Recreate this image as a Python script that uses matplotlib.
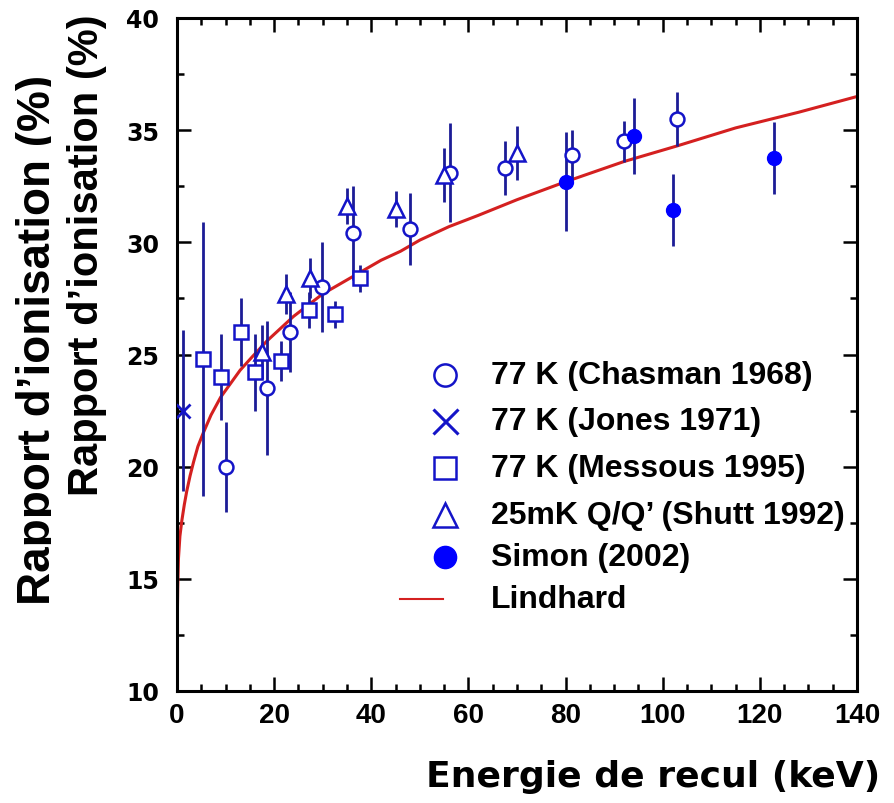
import matplotlib
matplotlib.use("Agg")
import matplotlib.pyplot as plt
from matplotlib.transforms import Bbox, TransformedBbox

# Donnees
chasman_x = [10.0, 18.5, 23.3, 29.8, 36.2, 48.0, 56.2, 67.5, 81.4, 92.0, 102.9]
chasman_y = [20.0, 23.5, 26.0, 28.0, 30.4, 30.6, 33.1, 33.3, 33.9, 34.5, 35.5]
chasman_err = [2.0, 3.0, 1.8, 2.0, 2.1, 1.6, 2.2, 1.2, 1.1, 0.9, 1.2]

jones_x = [1.3]
jones_y = [22.5]
jones_err = [3.6]

messous_x = [5.4, 9.0, 13.2, 16.1, 21.4, 27.2, 32.5, 37.7]
messous_y = [24.8, 24.0, 26.0, 24.2, 24.7, 27.0, 26.8, 28.4]
messous_err = [6.1, 1.9, 1.5, 1.7, 0.9, 0.8, 0.6, 0.6]

shutt_x = [17.6, 22.4, 27.4, 34.9, 45.1, 55.0, 70.1]
shutt_y = [25.1, 27.7, 28.4, 31.6, 31.5, 33.0, 34.0]
shutt_err = [1.2, 0.9, 0.9, 0.8, 0.8, 1.2, 1.2]

simon_x = [80.0, 94.1, 102.1, 123.0]
simon_y = [32.7, 34.75, 31.45, 33.75]
simon_err = [2.2, 1.7, 1.6, 1.6]

# courbe de Lindhard
lind_x = [0.05, 0.15, 0.3, 0.6, 1.0, 1.5, 2.0, 2.7, 3.4, 4.3, 5.4, 7.0, 9.0, 11.0,
          13.0, 15.5, 18.5, 21.0, 24.0, 27.0, 30.0, 34.0, 38.0, 42.0, 46.0, 50.0,
          56.0, 62.0, 70.0, 80.0, 92.0, 103.0, 115.0, 128.0, 140.0]
lind_y = [13.0, 14.6, 15.9, 16.9, 17.6, 18.3, 18.9, 19.6, 20.2, 20.9, 21.5, 22.3,
          23.1, 23.7, 24.3, 24.9, 25.6, 26.1, 26.7, 27.2, 27.7, 28.2, 28.7, 29.2,
          29.6, 30.1, 30.7, 31.2, 31.9, 32.7, 33.6, 34.3, 35.1, 35.8, 36.5]

labels = ["77 K (Chasman 1968)", "77 K (Jones 1971)", "77 K (Messous 1995)",
          "25mK Q/Q\u2019 (Shutt 1992)", "Simon (2002)", "Lindhard"]

blue = "#1414c8"
bar = "#1c1c96"
red = "#d42020"

fig = plt.figure(figsize=(8.94, 8.04), dpi=100)
ax = fig.add_axes([177 / 894, 1 - 692 / 804, 680 / 894, 673 / 804])

ax.plot(lind_x, lind_y, color=red, lw=2.2, zorder=2)

common = dict(ls="none", ecolor=bar, elinewidth=2.0, capsize=0, zorder=3)
ax.errorbar(chasman_x, chasman_y, yerr=chasman_err, marker="o", ms=10,
            mfc="white", mec=blue, mew=1.8, **common)
ax.errorbar(jones_x, jones_y, yerr=jones_err, marker="x", ms=10,
            mec=blue, mew=2.0, **common)
ax.errorbar(messous_x, messous_y, yerr=messous_err, marker="s", ms=10.5,
            mfc="white", mec=blue, mew=1.8, **common)
ax.errorbar(shutt_x, shutt_y, yerr=shutt_err, marker="^", ms=11,
            mfc="white", mec=blue, mew=1.8, **common)
ax.errorbar(simon_x, simon_y, yerr=simon_err, marker="o", ms=10,
            mfc="#0000ff", mec="#0000ff", **common)

# legende dessinee a la main
rows = [0.469, 0.401, 0.331, 0.261, 0.199, 0.136]
mx, tx = 0.394, 0.462
styles = [dict(marker="o", ms=16, mfc="white", mec=blue, mew=1.8),
          dict(marker="x", ms=18, mec=blue, mew=2.2),
          dict(marker="s", ms=16, mfc="white", mec=blue, mew=1.8),
          dict(marker="^", ms=17, mfc="white", mec=blue, mew=1.8),
          dict(marker="o", ms=16, mfc="#0000ff", mec="#0000ff")]
for yy, st in zip(rows[:5], styles):
    ax.plot([mx], [yy], ls="none", transform=ax.transAxes, clip_on=False, **st)
ax.plot([0.328, 0.391], [rows[5], rows[5]], color=red, lw=1.5, transform=ax.transAxes)
for yy, lab in zip(rows, labels):
    ax.text(tx, yy, lab, transform=ax.transAxes, va="center", ha="left",
            fontsize=23, fontweight="bold", family="Liberation Sans", color="black")

ax.set_xlim(0, 140)
ax.set_ylim(10, 40)
ax.set_xticks(range(0, 141, 20))
ax.set_xticks(range(0, 141, 5), minor=True)
ax.set_yticks(range(10, 41, 5))
ax.set_yticks([10 + 2.5 * i for i in range(13)], minor=True)

for s in ax.spines.values():
    s.set_linewidth(2.2)
ax.tick_params(which="both", direction="in", top=True, right=True, width=1.8)
ax.tick_params(which="major", length=10)
ax.tick_params(which="minor", length=5)
ax.tick_params(axis="y", pad=13)
ax.tick_params(axis="x", pad=8)

for t in ax.get_yticklabels():
    t.set_family("DejaVu Sans")
    t.set_fontweight("bold")
    t.set_fontsize(17)
for t in ax.get_xticklabels():
    t.set_family("Liberation Sans")
    t.set_fontweight("bold")
    t.set_fontsize(20)

fig.text(880 / 894, 1 - 787 / 804, "Energie de recul (keV)", ha="right", va="baseline",
         fontsize=26, fontweight="bold", family="DejaVu Sans")

# ancien titre d'axe, coupe a droite
old = fig.text(38 / 894, 1 - 340 / 804, "Rapport d\u2019ionisation (%)", rotation=90,
               ha="center", va="center", fontsize=33, fontweight="bold",
               family="Liberation Sans")
old.set_clip_on(True)
old.set_clip_box(TransformedBbox(Bbox([[0, 0], [51 / 894, 1]]), fig.transFigure))

fig.text(87 / 894, 1 - 255 / 804, "Rapport d\u2019ionisation (%)", rotation=90,
         ha="center", va="center", fontsize=30, fontweight="bold",
         family="Liberation Sans")

fig.savefig("out.png", dpi=100)
